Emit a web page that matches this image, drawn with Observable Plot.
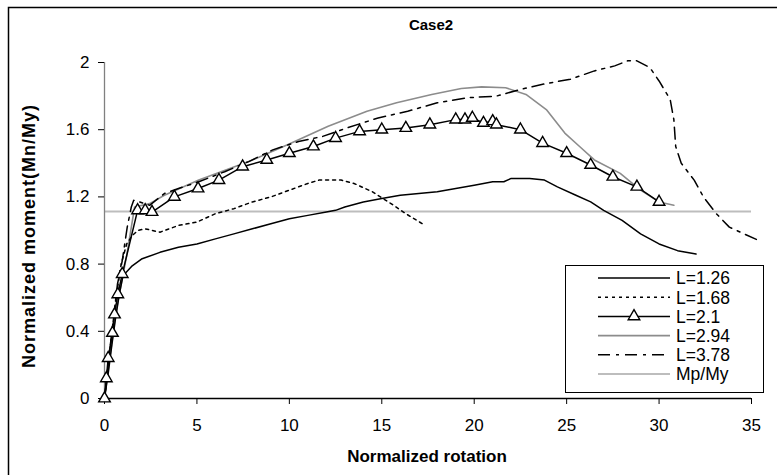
<!DOCTYPE html>
<html><head><meta charset="utf-8">
<script src="https://cdn.jsdelivr.net/npm/d3@7"></script>
<script src="https://cdn.jsdelivr.net/npm/@observablehq/plot@0.6"></script>
<style>html,body{margin:0;padding:0;background:#fff;} svg{display:block}</style>
</head><body><div id="chart"></div>
<script>
// ---- data ----
const title = "Case2";
const xLabel = "Normalized rotation";
const yLabel = "Normalized moment(Mn/My)";
const xTicks = [0, 5, 10, 15, 20, 25, 30, 35];
const yTicks = [0, 0.4, 0.8, 1.2, 1.6, 2];
const seriesNames = ["L=1.26", "L=1.68", "L=2.1", "L=2.94", "L=3.78", "Mp/My"];
const mpMy = 1.113;

const rot126 = [0, 0.2, 0.4, 0.6, 0.8, 1.0, 1.5, 2, 3, 4, 5, 6, 7, 8, 9, 10, 11, 12, 12.5, 13, 14, 15, 16, 17, 18, 19, 20, 21, 21.6, 22, 23, 23.8, 24.5, 25.5, 26.3, 27, 28, 29, 30, 31, 32];
const mom126 = [0, 0.15, 0.32, 0.48, 0.62, 0.73, 0.79, 0.83, 0.87, 0.90, 0.92, 0.95, 0.98, 1.01, 1.04, 1.07, 1.09, 1.11, 1.12, 1.14, 1.17, 1.19, 1.21, 1.22, 1.23, 1.25, 1.27, 1.29, 1.29, 1.31, 1.31, 1.30, 1.26, 1.21, 1.17, 1.12, 1.06, 0.98, 0.92, 0.88, 0.86];

const rot168 = [0, 0.3, 0.6, 0.9, 1.2, 1.5, 1.8, 2.2, 3, 4, 5, 6, 7, 8, 9, 10, 11, 11.6, 12.2, 12.8, 13.5, 14.5, 15.5, 16.3, 17.2];
const mom168 = [0, 0.3, 0.58, 0.8, 0.92, 0.97, 1.0, 1.01, 0.99, 1.03, 1.05, 1.10, 1.13, 1.17, 1.20, 1.24, 1.28, 1.30, 1.30, 1.30, 1.28, 1.23, 1.16, 1.10, 1.04];

const rot21 = [0, 0.1, 0.2, 0.43, 0.54, 0.72, 0.96, 1.79, 2.2, 2.57, 3.78, 5.06, 6.19, 7.47, 8.78, 10.0, 11.3, 12.5, 13.8, 15.0, 16.3, 17.6, 19.0, 19.5, 19.9, 20.5, 21.0, 21.2, 22.5, 23.7, 25.0, 26.3, 27.5, 28.8, 30.0];
const mom21 = [0, 0.12, 0.24, 0.39, 0.50, 0.62, 0.74, 1.12, 1.12, 1.11, 1.20, 1.25, 1.30, 1.38, 1.42, 1.46, 1.50, 1.55, 1.59, 1.60, 1.61, 1.63, 1.66, 1.66, 1.67, 1.64, 1.65, 1.63, 1.60, 1.52, 1.46, 1.39, 1.32, 1.26, 1.17];

const rot294 = [0, 0.3, 0.6, 0.9, 1.2, 1.63, 2.44, 3.24, 5.1, 7.8, 9.9, 12.1, 14.2, 15.8, 17.7, 19.3, 20.4, 21.7, 22.8, 23.9, 24.9, 25.7, 26.5, 27.9, 29.0, 30.0, 30.8];
const mom294 = [0, 0.25, 0.5, 0.68, 0.85, 1.14, 1.16, 1.21, 1.30, 1.41, 1.51, 1.62, 1.71, 1.76, 1.81, 1.845, 1.855, 1.85, 1.81, 1.72, 1.58, 1.50, 1.42, 1.34, 1.24, 1.17, 1.15];

const rot378 = [0, 0.35, 0.7, 0.96, 1.23, 1.45, 1.58, 1.9, 2.44, 3.24, 4.0, 5.1, 6.5, 7.8, 9.1, 10.5, 11.8, 13.1, 14.8, 16.4, 18.0, 19.6, 21.2, 22.5, 23.9, 25.2, 26.5, 27.6, 28.3, 28.8, 29.5, 30.0, 30.6, 30.8, 30.9, 31.2, 31.9, 32.4, 33.1, 33.8, 34.6, 35.4];
const mom378 = [0, 0.35, 0.68, 0.82, 1.02, 1.14, 1.18, 1.17, 1.15, 1.22, 1.25, 1.29, 1.35, 1.41, 1.48, 1.53, 1.56, 1.61, 1.67, 1.71, 1.76, 1.79, 1.80, 1.84, 1.875, 1.90, 1.95, 1.98, 2.01, 2.01, 1.97, 1.89, 1.78, 1.66, 1.50, 1.40, 1.30, 1.20, 1.10, 1.02, 0.98, 0.94];

// ---- chart ----
const idx = a => d3.range(a.length);
const FONT = "'Liberation Sans', Arial, sans-serif";
const dashDot = "12,6,3,6";
const dotted = "3,4";

const chart = Plot.plot({
  width: 777, height: 475,
  marginLeft: 104, marginRight: 26, marginTop: 62, marginBottom: 77,
  style: {fontFamily: FONT, fontSize: "17px", color: "#000", background: "#fff"},
  x: {domain: [0, 35]},
  y: {domain: [0, 2]},
  marks: [
    Plot.ruleY([mpMy], {x1: 0, x2: 35, stroke: "#bdbdbd", strokeWidth: 2}),
    Plot.ruleX([0], {stroke: "#808080", strokeWidth: 1.3}),
    Plot.ruleY([0], {stroke: "#000", strokeWidth: 1.3}),
    Plot.axisX({ticks: xTicks, tickSize: 6, tickPadding: 14, label: null, tickFormat: d => String(d)}),
    Plot.axisY({ticks: yTicks, tickSize: 6, tickPadding: 9, label: null, tickFormat: d => String(d)}),
    Plot.line(idx(rot294), {x: rot294, y: mom294, stroke: "#8c8c8c", strokeWidth: 1.6}),
    Plot.line(idx(rot126), {x: rot126, y: mom126, stroke: "#000", strokeWidth: 1.5}),
    Plot.line(idx(rot168), {x: rot168, y: mom168, stroke: "#000", strokeWidth: 1.5, strokeDasharray: dotted}),
    Plot.line(idx(rot378), {x: rot378, y: mom378, stroke: "#000", strokeWidth: 1.5, strokeDasharray: dashDot}),
    Plot.line(idx(rot21), {x: rot21, y: mom21, stroke: "#000", strokeWidth: 1.5}),
    Plot.dot(idx(rot21), {x: rot21, y: mom21, symbol: "triangle", r: 4.3, fill: "#fff", stroke: "#000", strokeWidth: 1.4})
  ]
});
document.getElementById("chart").appendChild(chart);

const svg = d3.select(chart);
// outer frame (cut off at right and bottom)
svg.append("path").attr("d", "M8.5,475V7.5H777").attr("fill", "none").attr("stroke", "#000").attr("stroke-width", 1.5);
// title
svg.append("text").attr("x", 431).attr("y", 30).attr("text-anchor", "middle")
  .attr("font-family", FONT).attr("font-weight", "bold").attr("font-size", 15).text(title);
// x label
svg.append("text").attr("x", 427).attr("y", 462).attr("text-anchor", "middle")
  .attr("font-family", FONT).attr("font-weight", "bold").attr("font-size", 17).text(xLabel);
// y label
svg.append("text").attr("transform", "translate(35,236) rotate(-90)").attr("text-anchor", "middle")
  .attr("font-family", FONT).attr("font-weight", "bold").attr("font-size", 18).attr("letter-spacing", 1).text(yLabel);

// legend
const lg = svg.append("g");
lg.append("rect").attr("x", 565.5).attr("y", 265.5).attr("width", 198).attr("height", 127)
  .attr("fill", "#fff").attr("stroke", "#000").attr("stroke-width", 1);
const legendStyles = [
  {stroke: "#000", dash: null, w: 1.5},
  {stroke: "#000", dash: dotted, w: 1.5},
  {stroke: "#000", dash: null, w: 1.5, tri: true},
  {stroke: "#8c8c8c", dash: null, w: 1.6},
  {stroke: "#000", dash: dashDot, w: 1.5},
  {stroke: "#bdbdbd", dash: null, w: 2}
];
seriesNames.forEach((name, i) => {
  const y = 278 + i * 19.2;
  const s = legendStyles[i];
  const ln = lg.append("line").attr("x1", 598).attr("x2", 670).attr("y1", y).attr("y2", y)
    .attr("stroke", s.stroke).attr("stroke-width", s.w);
  if (s.dash) ln.attr("stroke-dasharray", s.dash);
  if (s.tri) {
    lg.append("path").attr("d", d3.symbol(d3.symbolTriangle, Math.PI * 4.3 * 4.3)())
      .attr("transform", `translate(634,${y})`).attr("fill", "#fff").attr("stroke", "#000").attr("stroke-width", 1.4);
  }
  lg.append("text").attr("x", 676).attr("y", y).attr("dy", "0.36em").attr("text-anchor", "start")
    .attr("font-family", FONT).attr("font-size", 17.5).text(name);
});
</script>
</body></html>
